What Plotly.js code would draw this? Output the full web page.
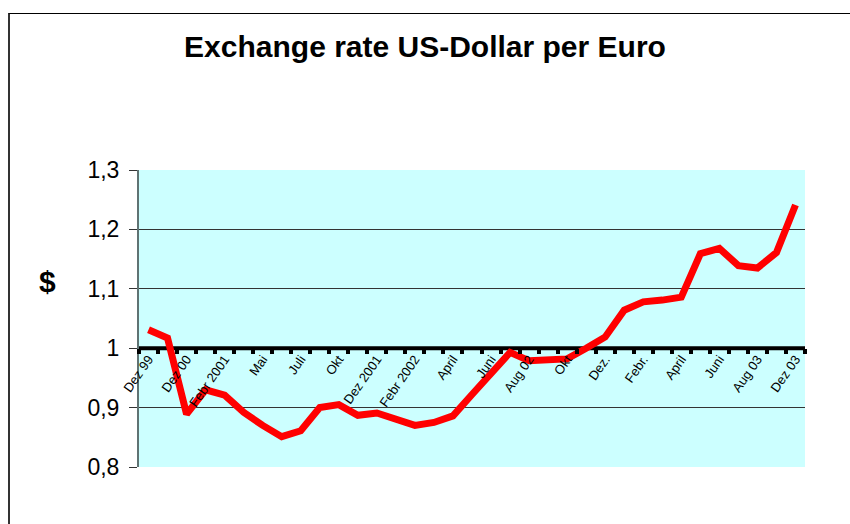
<!DOCTYPE html>
<html>
<head>
<meta charset="utf-8">
<script src="https://cdn.plot.ly/plotly-3.0.1.min.js"></script>
<style>
  html, body { margin: 0; padding: 0; background: #fff; }
  #wrap { position: relative; width: 850px; height: 524px; overflow: hidden; }
  #chart { width: 850px; height: 524px; }
  #frame { position: absolute; left: 8px; top: 13px; width: 900px; height: 600px;
           border-left: 2px solid #333; border-top: 1px solid #000; pointer-events: none; }
</style>
</head>
<body>
<div id="wrap"><div id="chart"></div><div id="frame"></div></div>
<script>
const labels = ['Dez 99','Dez 00','Febr 2001','Mai','Juli','Okt','Dez 2001','Febr 2002','April','Juni','Aug 02','Okt','Dez.','Febr.','April','Juni','Aug 03','Dez 03'];
const rate = [1.031,1.017,0.889,0.930,0.921,0.892,0.870,0.851,0.861,0.900,0.905,0.887,0.891,0.881,0.870,0.875,0.886,0.922,0.958,0.993,0.979,0.981,0.982,1.000,1.019,1.064,1.078,1.081,1.086,1.159,1.168,1.139,1.135,1.161,1.241];
const yTicks = [0.8,0.9,1.0,1.1,1.2,1.3];
const crossing = 1.0;

const idx = rate.map((_, i) => i);
const labelPos = labels.map((_, i) => 2 * i);
const FONT = 'Liberation Sans, Arial, sans-serif';

const trace = {
  x: idx, y: rate, type: 'scatter', mode: 'lines',
  line: { color: '#ff0000', width: 7 },
  hoverinfo: 'skip', showlegend: false
};

const layout = {
  width: 850, height: 524,
  margin: { l: 139, r: 45, t: 170, b: 57 },
  paper_bgcolor: '#ffffff',
  plot_bgcolor: '#ccffff',
  separators: ',.',
  font: { family: FONT, color: '#000' },
  title: {
    text: 'Exchange rate US-Dollar per Euro',
    font: { family: FONT, size: 30, color: '#000', weight: 'bold' },
    x: 0.5, xref: 'container', xanchor: 'center',
    y: 1 - 46 / 524, yref: 'container', yanchor: 'middle'
  },
  xaxis: {
    range: [-0.5, rate.length - 0.5],
    anchor: 'free', position: (crossing - 0.8) / 0.5,
    showline: false,
    layer: 'above traces',
    tickmode: 'array', tickvals: labelPos, ticktext: labels,
    tickangle: -55, ticks: '',
    tickfont: { family: FONT, size: 13, color: '#000' },
    minor: { ticks: 'outside', tickmode: 'linear', tick0: -0.5, dtick: 1,
             ticklen: 5, tickwidth: 4, tickcolor: '#000', showgrid: false },
    showgrid: false, zeroline: false, fixedrange: true
  },
  yaxis: {
    range: [0.8, 1.3],
    tickmode: 'array', tickvals: yTicks,
    ticks: 'outside', ticklen: 8, tickcolor: '#333', tickwidth: 1,
    ticklabelstandoff: 5,
    showline: true, linecolor: '#5f7373', linewidth: 2,
    showgrid: true, gridcolor: '#333', gridwidth: 1,
    zeroline: false,
    tickfont: { family: FONT, size: 23, color: '#000' },
    fixedrange: true
  },
  shapes: [{
    type: 'line', xref: 'x', yref: 'y', layer: 'between',
    x0: -0.5, x1: rate.length - 0.5, y0: crossing, y1: crossing,
    line: { color: '#000', width: 4 }
  }],
  annotations: [{
    text: '$', xref: 'paper', yref: 'paper',
    x: (47 - 139) / 666, y: (467 - 281) / 297,
    xanchor: 'center', yanchor: 'middle', showarrow: false,
    font: { family: FONT, size: 30, color: '#000', weight: 'bold' }
  }]
};

Plotly.newPlot('chart', [trace], layout, { displayModeBar: false, staticPlot: true });
</script>
</body>
</html>
